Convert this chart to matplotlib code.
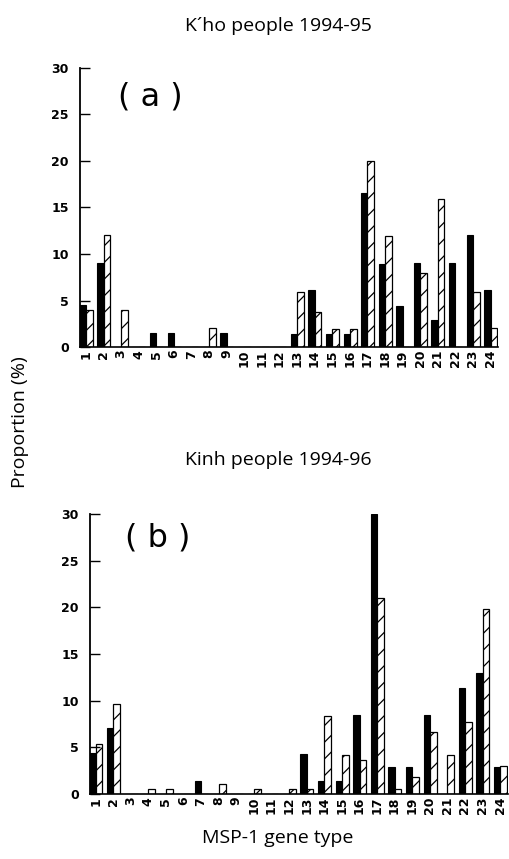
import matplotlib
matplotlib.use("Agg")
import matplotlib.pyplot as plt
import numpy as np

# MSP-1 gene types 1..24
gene_types = list(range(1, 25))

# (a) K'ho people 1994-95
kho_black = [4.5, 9, 0, 0, 1.5, 1.5, 0, 0, 1.5, 0, 0, 0,
             1.4, 6.1, 1.4, 1.4, 16.6, 8.9, 4.4, 9, 2.9, 9, 12, 6.1]
kho_hatch = [4, 12, 4, 0, 0, 0, 0, 2, 0, 0, 0, 0,
             5.9, 3.8, 1.9, 1.9, 20, 11.9, 0, 8, 15.9, 0, 5.9, 2]

# (b) Kinh people 1994-96
kinh_black = [4.4, 7.1, 0, 0, 0, 0, 1.4, 0, 0, 0, 0, 0,
              4.3, 1.4, 1.4, 8.5, 30, 2.9, 2.9, 8.5, 0, 11.4, 13, 2.9]
kinh_hatch = [5.4, 9.6, 0, 0.5, 0.5, 0, 0, 1.1, 0, 0.5, 0, 0.5,
              0.5, 8.3, 4.2, 3.6, 21, 0.5, 1.8, 6.6, 4.2, 7.75, 19.8, 3.0]

yticks = [0, 5, 10, 15, 20, 25, 30]

plt.rcParams['hatch.linewidth'] = 0.9
plt.rcParams['font.family'] = ['Open Sans', 'DejaVu Sans']

fig = plt.figure(figsize=(5.1, 8.59), dpi=100)
ax_a = fig.add_axes([0.157, 0.596, 0.820, 0.325])
ax_b = fig.add_axes([0.176, 0.0757, 0.820, 0.326])

x = np.array(gene_types)
w = 0.36


def draw_panel(ax, black, hatch, tag, tag_x, tag_y):
    ax.bar(x - 0.17, black, width=w, color='black', edgecolor='black', linewidth=0.8)
    ax.bar(x + 0.2, hatch, width=w + 0.02, color='white', edgecolor='black',
           linewidth=0.9, hatch='//')
    ax.set_xlim(0.67, 24.45)
    ax.set_ylim(0, 30)
    ax.spines['top'].set_visible(False)
    ax.spines['right'].set_visible(False)
    ax.spines['left'].set_linewidth(1.3)
    ax.spines['bottom'].set_linewidth(1.2)
    ax.set_yticks(yticks)
    ax.set_yticklabels([str(v) for v in yticks], fontfamily='DejaVu Sans',
                       fontsize=9, fontweight='bold')
    ax.set_xticks(x)
    ax.set_xticklabels([str(g) for g in gene_types], rotation=90,
                       fontfamily='DejaVu Sans', fontsize=9, fontweight='bold')
    ax.tick_params(axis='y', direction='in', length=7, width=1.0, pad=8)
    ax.tick_params(axis='x', length=0, pad=2)
    ax.text(tag_x, tag_y, tag, fontsize=23, fontfamily='DejaVu Sans',
            ha='center', va='center')


draw_panel(ax_a, kho_black, kho_hatch, '( a )', 4.68, 26.9)
draw_panel(ax_b, kinh_black, kinh_hatch, '( b )', 4.51, 27.4)

fig.text(278 / 510, 1 - 26 / 859, "K\u00b4ho people 1994-95", ha='center', va='center', fontsize=14)
fig.text(278 / 510, 1 - 460 / 859, "Kinh people 1994-96", ha='center', va='center', fontsize=14)
fig.text(278 / 510, 1 - 838 / 859, "MSP-1 gene type", ha='center', va='center', fontsize=14)
fig.text(20 / 510, 1 - 422 / 859, "Proportion (%)", ha='center', va='center',
         fontsize=14, rotation=90)

fig.savefig("out.png", dpi=100)
